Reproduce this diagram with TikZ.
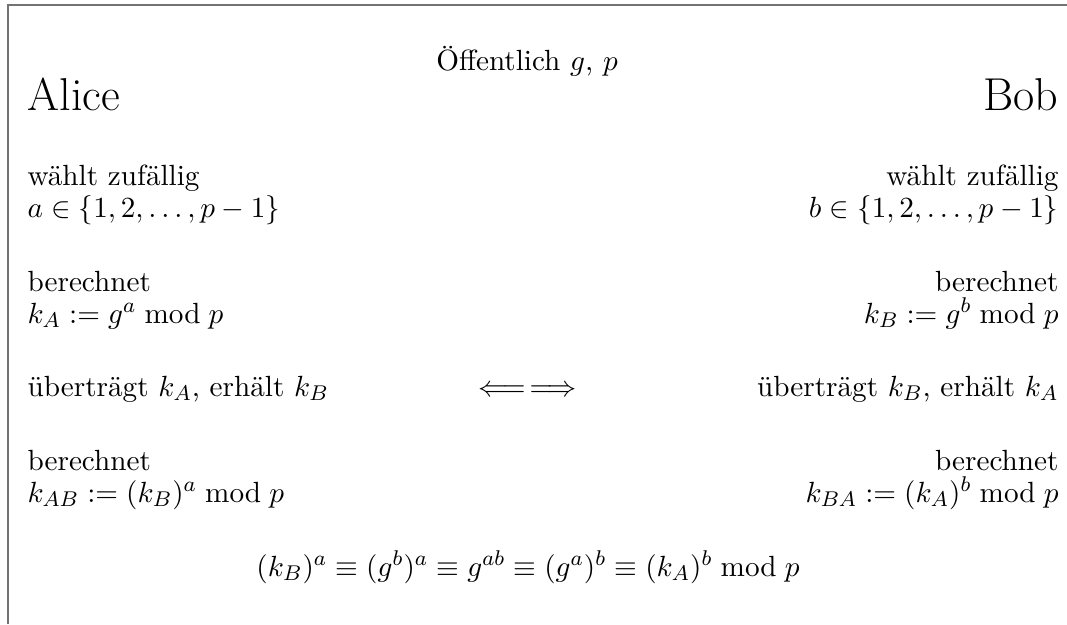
\documentclass[tikz,border=0pt]{standalone}
\usepackage{amsmath}
\begin{document}
\begin{tikzpicture}[x=0.37488pt,y=-0.37488pt,
  txt/.style={inner sep=0pt,font=\fontsize{10.95}{13.6}\selectfont},
  big/.style={inner sep=0pt,font=\fontsize{17.28}{22}\selectfont},
  lt/.style={txt,anchor=base west},
  rt/.style={txt,anchor=base east},
  ct/.style={txt,anchor=base},
  frame/.style={draw=black!55,line width=0.7pt}]
\useasboundingbox (0,0) rectangle (1067,624);
\draw[frame] (8,624) -- (8,5) -- (1067,5);
% header
\node[ct] (pub) at (527,70) {Öffentlich $g$, $p$};
\node[big,anchor=base west] (alice) at (27,110) {Alice};
\node[big,anchor=base east] (bob) at (1059,110) {Bob};
% Alice column
\node[lt] (a1) at (27,185) {wählt zufällig};
\node[lt] (a2) at (27,217) {$a\in\{1,2,\dots,p-1\}$};
\node[lt] (a3) at (27,291) {berechnet};
\node[lt] (a4) at (27,323) {$k_A:=g^a\bmod p$};
\node[lt] (a5) at (27,396) {überträgt $k_A$, erhält $k_B$};
\node[lt] (a6) at (27,470) {berechnet};
\node[lt] (a7) at (27,502) {$k_{AB}:=(k_B)^a\bmod p$};
% Bob column
\node[rt] (b1) at (1059,185) {wählt zufällig};
\node[rt] (b2) at (1059,217) {$b\in\{1,2,\dots,p-1\}$};
\node[rt] (b3) at (1059,291) {berechnet};
\node[rt] (b4) at (1059,323) {$k_B:=g^b\bmod p$};
\node[rt] (b5) at (1059,396) {überträgt $k_B$, erhält $k_A$};
\node[rt] (b6) at (1059,470) {berechnet};
\node[rt] (b7) at (1059,502) {$k_{BA}:=(k_A)^b\bmod p$};
% middle
\node[rt] (arrowL) at (526,396) {$\Longleftarrow$};
\node[lt] (arrowR) at (529,396) {$\Longrightarrow$};
\node[ct] (eq) at (528,576) {$(k_B)^a\equiv(g^b)^a\equiv g^{ab}\equiv(g^a)^b\equiv(k_A)^b\bmod p$};
\end{tikzpicture}
\end{document}
